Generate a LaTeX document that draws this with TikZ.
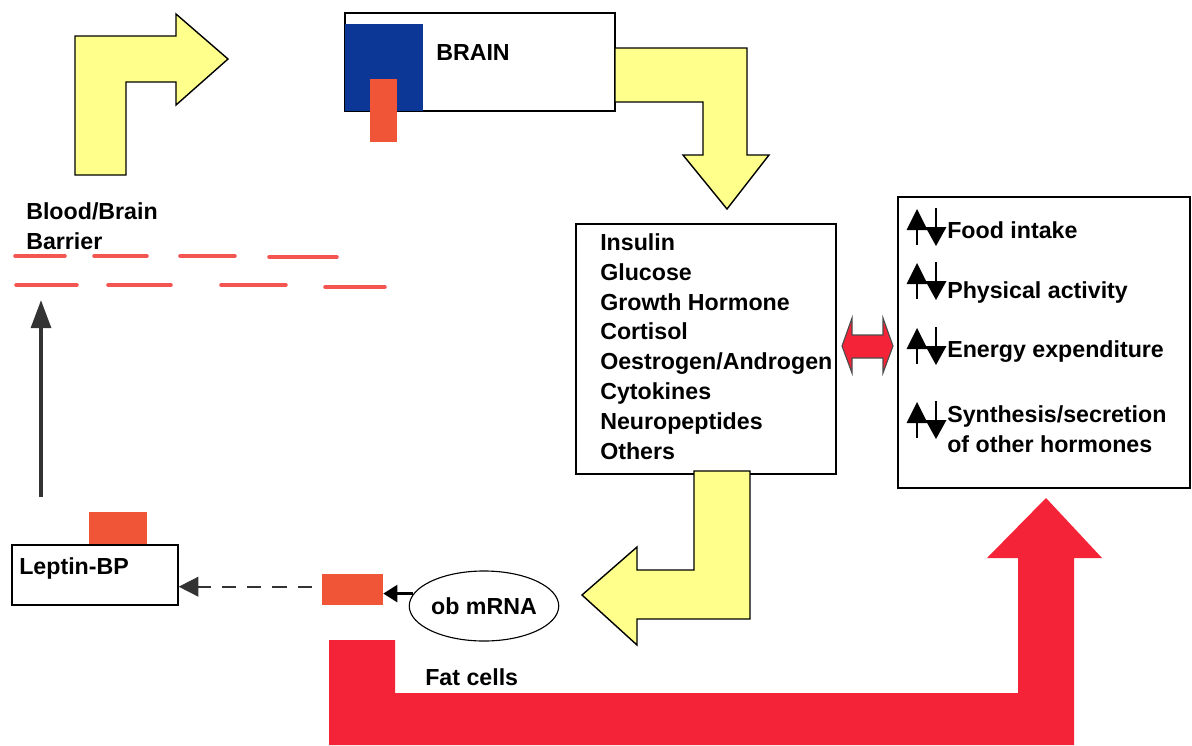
\documentclass[tikz,border=0pt]{standalone}
\usepackage{fontspec}
\setmainfont{Liberation Sans}
\usepackage{xcolor}
\usepackage{tikz}
\usetikzlibrary{
  arrows,
  arrows.meta,
  positioning,
  calc,
  shapes}
\tikzset{every picture/.style={font issue=\bfseries\fontsize{16.5}{21.3}},
         font issue/.style={execute at begin picture={#1\selectfont}}
        }
\definecolor{arrowyellow}{RGB}{255,255,140}
\definecolor{fatred}{RGB}{245,35,55}
\definecolor{leptinred}{RGB}{240,85,55}
\definecolor{brainblue}{RGB}{12,55,150}
\definecolor{barrierred}{RGB}{245,85,80}
\tikzset{box/.style={draw, fill=white, line width=1pt, inner sep=0pt},
         yellowarrow/.style={fill=arrowyellow, draw=black, line width=1pt, line join=miter},
         label/.style={inner sep=0pt, anchor=west, align=left},
         barrier/.style={barrierred, line width=2.5pt, line cap=round}}
% up and down arrows in front of each effect
\newcommand{\updown}[2]{
  \begin{scope}[shift={(#1,#2)}]
    \fill (-10.5,3) -- (10.5,3) -- (0,-18) -- cycle;
    \draw[line width=2pt] (0,2) -- (0,18);
    \draw[line width=2pt] (19,-19) -- (19,1);
    \fill (8.5,0) -- (29.5,0) -- (19,19) -- cycle;
  \end{scope}}

\begin{document}
\begin{tikzpicture}[x=0.025cm, y=-0.025cm]
\useasboundingbox (0,0) rectangle (1192,745);

%arrow into the brain
\draw[yellowarrow] (75,175) -- (75,36) -- (176,36) -- (176,14) -- (228,59)
  -- (176,105) -- (176,82) -- (126,82) -- (126,175) -- cycle;

%brain
\node[box, minimum width=6.75cm, minimum height=2.45cm] (brain) at (480,62) {};
\fill[brainblue] (345,24) rectangle (423,111);
\fill[leptinred] (370,79) rectangle (397,142);
\node[label] (braintext) at (436,53) {BRAIN};

%arrow brain to hormones
\draw[yellowarrow] (615,48) -- (747,48) -- (747,155) -- (769,155) -- (727,209)
  -- (683,155) -- (703,155) -- (703,102) -- (615,102) -- cycle;

%hormones
\node[box, minimum width=6.5cm, minimum height=6.25cm] (hormones) at (706,349) {};
\node[inner sep=0pt, anchor=north west, align=left] (hormonelist) at (600,233)
  {Insulin\\Glucose\\Growth Hormone\\Cortisol\\Oestrogen/Androgen\\Cytokines\\Neuropeptides\\Others};

%effects
\node[box, minimum width=7.3cm, minimum height=7.275cm] (effects) at (1044,342.5) {};
\updown{917}{227}
\updown{917}{281}
\updown{917}{346}
\updown{917}{420}
\node[label] (food) at (947,230) {Food intake};
\node[label] (activity) at (947,292) {Physical activity};
\node[label] (energy) at (947,352) {Energy expenditure};
\node[label] (synthesis) at (947,429) {Synthesis/secretion\\of other hormones};

%double arrow hormones - effects
\draw[fill=fatred, draw=black!70, line width=0.8pt] (842,346) -- (852,318) -- (852,335)
  -- (883,335) -- (883,318) -- (893,346) -- (883,373) -- (883,358) -- (852,358)
  -- (852,373) -- cycle;

%blood brain barrier
\node[label] (barriertext) at (26,226) {Blood/Brain\\Barrier};
\draw[barrier] (15,256) -- (65,256);
\draw[barrier] (94,256) -- (147,256);
\draw[barrier] (180,256) -- (235,256);
\draw[barrier] (269,257) -- (337,257);
\draw[barrier] (16,285) -- (77,285);
\draw[barrier] (108,285) -- (171,285);
\draw[barrier] (221,285) -- (286,285);
\draw[barrier] (325,287) -- (385,287);

\coordinate (lepup) at (41,497);
\coordinate (bbbin) at (41,300);
\draw[line width=3pt, black!80, -{Triangle[width=14pt, length=20pt]}] (lepup) -- (bbbin);

%leptin binding protein
\fill[leptinred] (89,512) rectangle (147,545);
\node[box, minimum width=4.15cm, minimum height=1.5cm] (leptinbp) at (95,575) {};
\node[label] (leptintext) at (19,568) {Leptin-BP};

%fat cells
\node[fill=leptinred, minimum width=1.525cm, minimum height=0.775cm, inner sep=0pt] (fatleptin) at (352.5,589.5) {};
\node[draw, ellipse, line width=0.8pt, minimum width=3.45cm, minimum height=1.75cm, inner sep=0pt] (obmrna) at (484,606) {ob mRNA};
\draw[line width=2pt, -{Triangle[width=12pt, length=10pt]}] (obmrna.170) -- (obmrna.170 -| fatleptin.east);
\draw[line width=1.2pt, black!80, dash pattern=on 10pt off 8pt, shorten <=7pt,
  -{Triangle[width=14pt, length=14pt]}] ([yshift=2pt]fatleptin.west) -- ([yshift=2pt]fatleptin.west -| leptinbp.east);

%arrow hormones to fat cells
\draw[yellowarrow] (694,471) -- (750,471) -- (750,619) -- (637,619) -- (637,645)
  -- (582,595) -- (637,547) -- (637,570) -- (694,570) -- cycle;

%fat cells to effects
\fill[fatred] (329,745) -- (329,640) -- (395,640) -- (395,693) -- (1018,693)
  -- (1018,558) -- (987,558) -- (1046,498) -- (1102,558) -- (1074,558)
  -- (1074,745) -- cycle;
\node[label] (fattext) at (425,677) {Fat cells};

\end{tikzpicture}
\end{document}
